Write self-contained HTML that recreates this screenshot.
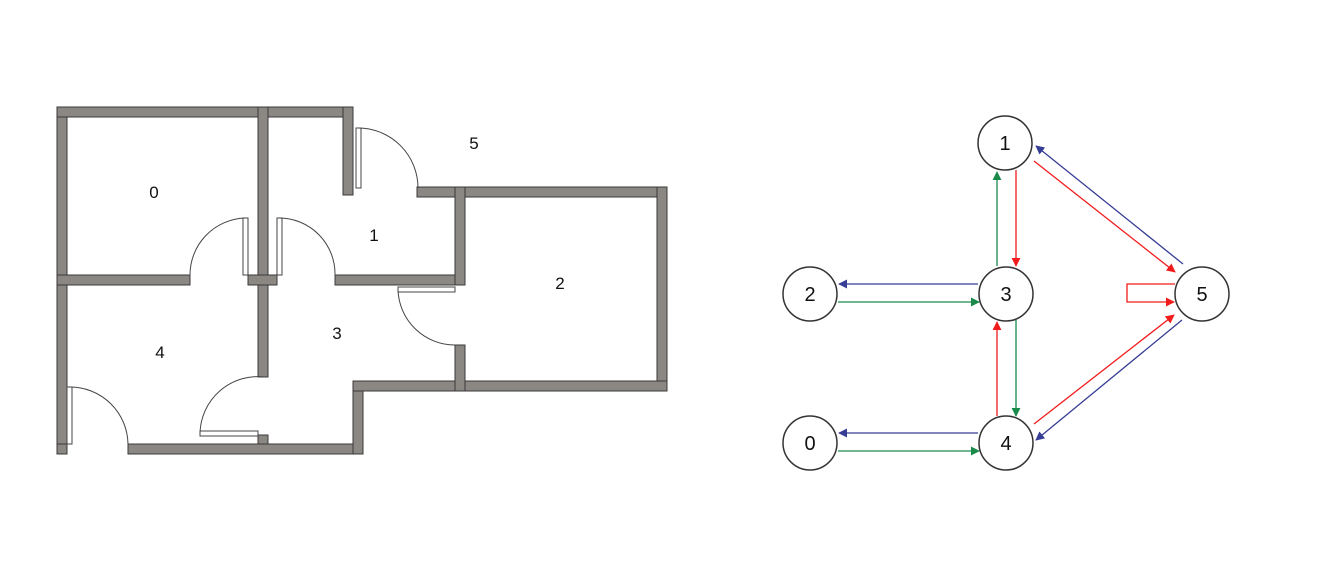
<!DOCTYPE html>
<html><head><meta charset="utf-8"><style>
html,body{margin:0;padding:0;background:#fff;width:1337px;height:586px;overflow:hidden}
text{font-family:"Liberation Sans",sans-serif}
</style></head><body>
<svg width="1337" height="586" viewBox="0 0 1337 586" xmlns="http://www.w3.org/2000/svg">
<defs>
<marker id="ar" viewBox="0 0 10 10" refX="9" refY="5" markerWidth="9" markerHeight="9" markerUnits="userSpaceOnUse" orient="auto"><path d="M0,0 L10,5 L0,10z" fill="#f21b1b"/></marker>
<marker id="ag" viewBox="0 0 10 10" refX="9" refY="5" markerWidth="9" markerHeight="9" markerUnits="userSpaceOnUse" orient="auto"><path d="M0,0 L10,5 L0,10z" fill="#1a8a4a"/></marker>
<marker id="ab" viewBox="0 0 10 10" refX="9" refY="5" markerWidth="9" markerHeight="9" markerUnits="userSpaceOnUse" orient="auto"><path d="M0,0 L10,5 L0,10z" fill="#363d95"/></marker>
</defs>
<g fill="#8b8884" stroke="#3a3a3a" stroke-width="1">
<!-- outer left -->
<rect x="57" y="107" width="10" height="347"/>
<!-- top -->
<rect x="57" y="107" width="296" height="10"/>
<!-- right stub room1 -->
<rect x="343" y="107" width="10" height="88"/>
<!-- wall 0/1 -->
<rect x="258" y="107" width="10" height="178"/>
<!-- horizontal 0/4 -->
<rect x="57" y="275" width="133" height="10"/>
<rect x="248" y="275" width="29" height="10"/>
<rect x="335" y="275" width="120" height="10"/>
<!-- wall 1/2 top -->
<rect x="417" y="187" width="250" height="10"/>
<rect x="455" y="187" width="10" height="98"/>
<rect x="657" y="187" width="10" height="204"/>
<rect x="455" y="381" width="212" height="10"/>
<rect x="455" y="345" width="10" height="46"/>
<!-- wall 4/3 -->
<rect x="258" y="285" width="10" height="92"/>
<rect x="258" y="435" width="10" height="19"/>
<!-- bottom -->
<rect x="57" y="444" width="10" height="10"/>
<rect x="128" y="444" width="235" height="10"/>
<rect x="353" y="381" width="10" height="73"/>
<rect x="353" y="381" width="102" height="10"/>
</g>
<g fill="none" stroke="#444" stroke-width="1">
<!-- door 1-5 -->
<rect x="356" y="128" width="5" height="60"/>
<path d="M358,128 A60,60 0 0 1 418,188"/>
<!-- door 0 -->
<rect x="243" y="218" width="5" height="57"/>
<path d="M245,218 A57,57 0 0 0 190,275"/>
<!-- door 1 -->
<rect x="277" y="218" width="5" height="57"/>
<path d="M279,218 A56,56 0 0 1 335,275"/>
<!-- door 3-2 -->
<rect x="398" y="287" width="57" height="5"/>
<path d="M398,290 A57,57 0 0 0 455,345"/>
<!-- door 4-3 -->
<rect x="200" y="431" width="58" height="5"/>
<path d="M200,433 A58,58 0 0 1 265,377"/>
<!-- door 4 outer -->
<rect x="67" y="387" width="5" height="57"/>
<path d="M70,387 A58,58 0 0 1 128,444"/>
</g>
<g font-size="17" fill="#111" text-anchor="middle">
<text x="154" y="198">0</text>
<text x="374" y="241">1</text>
<text x="474" y="149">5</text>
<text x="560" y="289">2</text>
<text x="337" y="339">3</text>
<text x="160" y="358">4</text>
</g>
<!-- graph -->
<g fill="none" stroke-width="1.3">
<line x1="1016" y1="170" x2="1016" y2="266" stroke="#f21b1b" marker-end="url(#ar)"/>
<line x1="997" y1="266" x2="997" y2="172" stroke="#1a8a4a" marker-end="url(#ag)"/>
<line x1="978" y1="284" x2="839" y2="284" stroke="#363d95" marker-end="url(#ab)"/>
<line x1="838" y1="302" x2="979" y2="302" stroke="#1a8a4a" marker-end="url(#ag)"/>
<line x1="1016" y1="320" x2="1016" y2="416" stroke="#1a8a4a" marker-end="url(#ag)"/>
<line x1="997" y1="416" x2="997" y2="322" stroke="#f21b1b" marker-end="url(#ar)"/>
<line x1="978" y1="433" x2="839" y2="433" stroke="#363d95" marker-end="url(#ab)"/>
<line x1="838" y1="451" x2="979" y2="451" stroke="#1a8a4a" marker-end="url(#ag)"/>
<line x1="1034" y1="161" x2="1175" y2="272" stroke="#f21b1b" marker-end="url(#ar)"/>
<line x1="1183" y1="264" x2="1036" y2="146" stroke="#363d95" marker-end="url(#ab)"/>
<line x1="1034" y1="424" x2="1174" y2="315" stroke="#f21b1b" marker-end="url(#ar)"/>
<line x1="1182" y1="320" x2="1036" y2="440" stroke="#363d95" marker-end="url(#ab)"/>
<path d="M1175,284 H1127 V302 H1174" stroke="#f21b1b" marker-end="url(#ar)"/>
</g>
<g fill="#fff" stroke="#333" stroke-width="1.5">
<circle cx="1005" cy="143" r="27"/>
<circle cx="1006" cy="294" r="27"/>
<circle cx="810" cy="294" r="27"/>
<circle cx="1202" cy="294" r="27"/>
<circle cx="810" cy="443" r="27"/>
<circle cx="1006" cy="443" r="27"/>
</g>
<g font-size="20" fill="#111" text-anchor="middle">
<text x="1005" y="150">1</text>
<text x="1006" y="301">3</text>
<text x="810" y="301">2</text>
<text x="1202" y="301">5</text>
<text x="810" y="450">0</text>
<text x="1006" y="450">4</text>
</g>
</svg>
</body></html>
